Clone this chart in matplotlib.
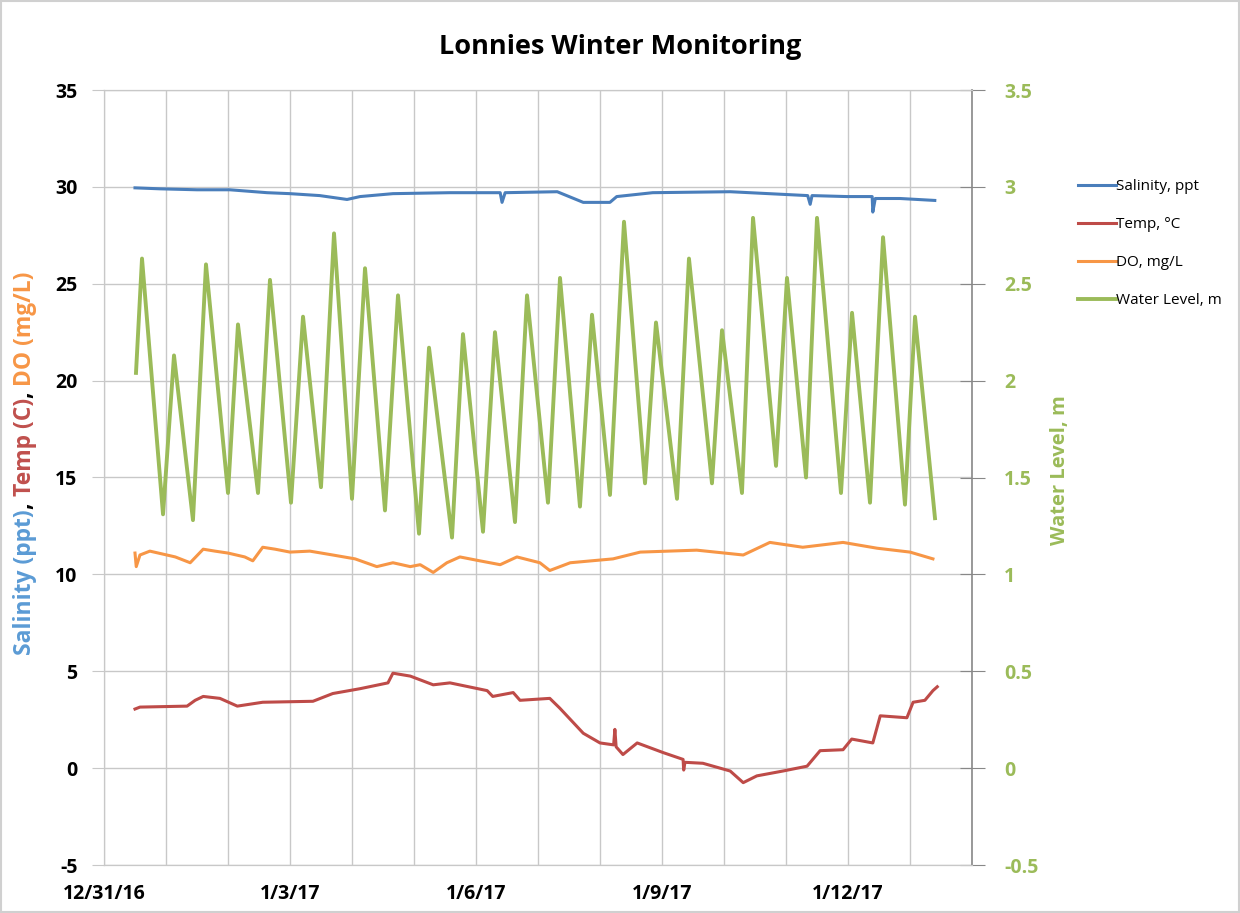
import numpy as np
import matplotlib
matplotlib.use('Agg')
import matplotlib.pyplot as plt
from matplotlib.patches import Rectangle

plt.rcParams['font.family'] = ['Open Sans', 'DejaVu Sans']

# time in days after 12/31/16 00:00
sal_t = [0.50, 0.90, 1.50, 2.03, 2.63, 3.00, 3.48, 3.92, 4.13, 4.66, 5.58, 6.39, 6.42, 6.47,
         7.31, 7.73, 8.16, 8.27, 8.85, 10.10, 11.35, 11.39, 11.42, 11.98, 12.39, 12.40, 12.44,
         12.84, 13.40]
sal_v = [29.95, 29.9, 29.85, 29.85, 29.7, 29.65, 29.55, 29.35, 29.5, 29.65, 29.7, 29.7, 29.2, 29.7,
         29.75, 29.2, 29.2, 29.5, 29.7, 29.75, 29.55, 29.1, 29.55, 29.5, 29.5, 28.7, 29.4,
         29.4, 29.3]

temp_t = [0.50, 0.58, 1.34, 1.47, 1.60, 1.87, 2.15, 2.56, 3.37, 3.69, 4.13, 4.58, 4.66, 4.94,
          5.31, 5.58, 6.18, 6.27, 6.60, 6.71, 7.19, 7.35, 7.73, 8.00, 8.22, 8.24, 8.26, 8.37,
          8.60, 9.02, 9.34, 9.35, 9.37, 9.66, 10.10, 10.31, 10.53, 10.95, 11.34, 11.55, 11.92,
          12.06, 12.40, 12.52, 12.95, 13.05, 13.24, 13.37, 13.44]
temp_v = [3.05, 3.15, 3.2, 3.5, 3.7, 3.6, 3.2, 3.4, 3.45, 3.85, 4.1, 4.4, 4.9, 4.75,
          4.3, 4.4, 4.0, 3.7, 3.9, 3.5, 3.6, 3.1, 1.8, 1.3, 1.2, 2.0, 1.1, 0.7,
          1.3, 0.8, 0.45, -0.1, 0.3, 0.25, -0.15, -0.75, -0.4, -0.15, 0.1, 0.9, 0.95,
          1.5, 1.3, 2.7, 2.6, 3.4, 3.5, 4.0, 4.2]

do_t = [0.50, 0.52, 0.58, 0.74, 1.15, 1.39, 1.60, 1.79, 2.00, 2.27, 2.40, 2.56, 2.76, 3.00,
        3.32, 3.69, 4.05, 4.40, 4.66, 4.94, 5.10, 5.31, 5.53, 5.74, 6.06, 6.39, 6.66, 7.03,
        7.19, 7.52, 8.21, 8.65, 9.56, 10.31, 10.74, 11.27, 11.92, 12.47, 13.00, 13.37]
do_v = [11.1, 10.4, 11.0, 11.2, 10.9, 10.6, 11.3, 11.2, 11.1, 10.9, 10.7, 11.4, 11.3, 11.15,
        11.2, 11.0, 10.8, 10.4, 10.6, 10.4, 10.5, 10.1, 10.6, 10.9, 10.7, 10.5, 10.9, 10.6,
        10.2, 10.6, 10.8, 11.15, 11.25, 11.0, 11.65, 11.4, 11.65, 11.35, 11.15, 10.8]

# tide highs and lows
wl_t = [0.516, 0.613, 0.952, 1.129, 1.435, 1.645, 2.000, 2.161, 2.484, 2.677, 3.016, 3.210,
        3.500, 3.710, 4.000, 4.210, 4.532, 4.742, 5.081, 5.242, 5.613, 5.790, 6.113, 6.306,
        6.629, 6.823, 7.161, 7.355, 7.677, 7.871, 8.161, 8.387, 8.726, 8.903, 9.242, 9.435,
        9.806, 9.968, 10.290, 10.468, 10.839, 11.016, 11.323, 11.500, 11.887, 12.065, 12.355,
        12.565, 12.919, 13.081, 13.403]
wl_v = [2.04, 2.63, 1.31, 2.13, 1.28, 2.60, 1.42, 2.29, 1.42, 2.52, 1.37, 2.33,
        1.45, 2.76, 1.39, 2.58, 1.33, 2.44, 1.21, 2.17, 1.19, 2.24, 1.22, 2.25,
        1.27, 2.44, 1.37, 2.53, 1.35, 2.34, 1.41, 2.82, 1.47, 2.30, 1.39, 2.63,
        1.47, 2.26, 1.42, 2.84, 1.56, 2.53, 1.50, 2.84, 1.42, 2.35, 1.37,
        2.74, 1.36, 2.33, 1.29]

date_ticks = [0, 3, 6, 9, 12]
date_labels = ['12/31/16', '1/3/17', '1/6/17', '1/9/17', '1/12/17']
left_ticks = [35, 30, 25, 20, 15, 10, 5, 0, -5]
right_ticks = [3.5, 3.0, 2.5, 2.0, 1.5, 1.0, 0.5, 0.0, -0.5]
right_labels = ['3.5', '3', '2.5', '2', '1.5', '1', '0.5', '0', '-0.5']

c_sal = '#4a7ebb'
c_temp = '#be4b48'
c_do = '#f79646'
c_wl = '#9bbb59'
grid_c = '#c8c8c8'

fig = plt.figure(figsize=(12.4, 9.13), dpi=100)
fig.patches.append(Rectangle((0.001, 0.001), 0.998, 0.998, transform=fig.transFigure,
                             fill=False, edgecolor='#d0d0d0', lw=1.5))
ax = fig.add_axes([104/1240, 48/913, 868/1240, 775/913])
ax2 = ax.twinx()

h1, = ax.plot(sal_t, sal_v, color=c_sal, lw=2.2, label='Salinity, ppt')
h2, = ax.plot(temp_t, temp_v, color=c_temp, lw=2.2, label='Temp, \u00b0C')
h3, = ax.plot(do_t, do_v, color=c_do, lw=2.2, label='DO, mg/L')
h4, = ax2.plot(wl_t, wl_v, color=c_wl, lw=2.8, label='Water Level, m')

ax.set_xlim(0, 14)
ax.set_ylim(-5, 35)
ax2.set_ylim(-0.5, 3.5)

ax.set_xticks(date_ticks)
ax.set_xticklabels(date_labels, fontsize=14, fontweight='bold')
ax.set_xticks(np.arange(0, 15, 1), minor=True)
ax.tick_params(axis='x', which='both', length=0, pad=14)
ax.set_yticks(left_ticks)
ax.set_yticklabels([str(v) for v in left_ticks], fontsize=14, fontweight='bold')
ax.tick_params(axis='y', length=9, color=grid_c, pad=10)
ax2.set_yticks(right_ticks)
ax2.set_yticklabels(right_labels, fontsize=14, fontweight='bold', color=c_wl)
ax2.tick_params(axis='y', direction='inout', length=18, color='#888888', pad=14)

ax.grid(True, which='both', color=grid_c, lw=1)
ax.set_axisbelow(True)
for s in ['left', 'bottom', 'top']:
    ax.spines[s].set_color(grid_c)
    ax2.spines[s].set_color(grid_c)
ax.spines['right'].set_visible(False)
ax2.spines['right'].set_color('#888888')
ax2.spines['right'].set_linewidth(1.2)

fig.text(0.5, 1 - 47/913, 'Lonnies Winter Monitoring', ha='center', va='center',
         fontsize=19.5, fontweight='bold')

ax2.set_ylabel('Water Level, m', color=c_wl, fontsize=14.5, fontweight='bold')
ax2.yaxis.set_label_coords((1050 - 104) / 868, 0.51)

# multi-coloured left axis title
parts = [('Salinity (ppt)', '#5b9bd5'), (', ', 'black'), ('Temp (C)', '#c0504d'),
         (', ', 'black'), ('DO (mg/L)', c_do)]
renderer = fig.canvas.get_renderer()
texts = []
for s, c in parts:
    t = fig.text(25/1240, 0, s, color=c, rotation=90, ha='center', va='bottom',
                 fontsize=16.5, fontweight='bold')
    texts.append(t)
heights = [t.get_window_extent(renderer).height for t in texts]
total = sum(heights)
y = 1 - 463/913 - total/2/913
for t, h in zip(texts, heights):
    t.set_y(y)
    y += h/913

fig.legend(handles=[h1, h2, h3, h4], loc='upper left', bbox_to_anchor=(1072/1240, 1 - 173/913),
           frameon=False, fontsize=11, handlelength=2.5, handletextpad=0.0,
           labelspacing=1.5, borderaxespad=0)

fig.savefig('out.png', dpi=100)
